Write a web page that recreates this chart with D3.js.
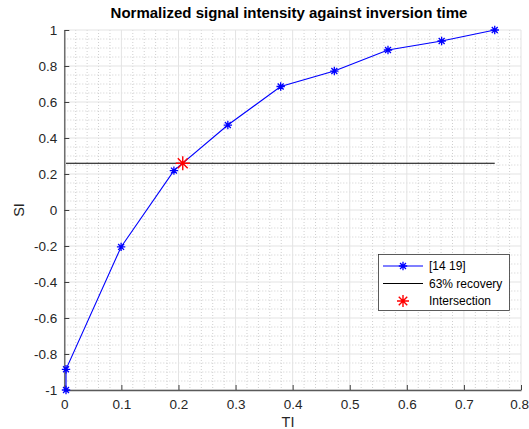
<!DOCTYPE html>
<html>
<head>
<meta charset="utf-8">
<script src="https://cdn.jsdelivr.net/npm/d3@7"></script>
<style>
  html, body { margin: 0; padding: 0; background: #fff; }
  svg { display: block; font-family: "Liberation Sans", Arial, Helvetica, sans-serif; }
</style>
</head>
<body>
<svg id="chart" width="529" height="429"></svg>
<script>
// Inversion times (s) and normalized signal intensity for ROI [14 19]
const ti = [0.003, 0.003, 0.0995, 0.192, 0.2865, 0.379, 0.473, 0.567, 0.661, 0.754];
const si = [-1.0, -0.885, -0.205, 0.219, 0.472, 0.686, 0.772, 0.889, 0.939, 1.0];

// 63% recovery level: -1 + 0.63 * 2
const recoveryLevel = [0.26];
const recoverySpan = [0.003, 0.754];

// Crossing of the curve with the recovery level
const intersection = [[0.2075, 0.26]];

const xTicks = [0, 0.1, 0.2, 0.3, 0.4, 0.5, 0.6, 0.7, 0.8];
const yTicks = [-1, -0.8, -0.6, -0.4, -0.2, 0, 0.2, 0.4, 0.6, 0.8, 1];
const legendLabels = ["[14 19]", "63% recovery", "Intersection"];

const svg = d3.select("#chart");
const m = { left: 64.3, right: 521, top: 30, bottom: 390 };

const x = d3.scaleLinear().domain([0, 0.8]).range([m.left, m.right]);
const y = d3.scaleLinear().domain([-1, 1]).range([m.bottom, m.top]);

// minor grid
const xMinor = d3.range(0, 0.8001, 0.02).filter(v => Math.abs(v * 10 - Math.round(v * 10)) > 1e-6);
const yMinor = d3.range(-1, 1.0001, 0.05).filter(v => Math.abs(v * 5 - Math.round(v * 5)) > 1e-6);
const grid = svg.append("g");
grid.selectAll(".vx").data(xMinor).join("line")
  .attr("x1", d => x(d)).attr("x2", d => x(d))
  .attr("y1", m.top).attr("y2", m.bottom)
  .attr("stroke", "#cfcfcf").attr("stroke-width", 1).attr("stroke-dasharray", "1,2");
grid.selectAll(".hy").data(yMinor).join("line")
  .attr("y1", d => y(d)).attr("y2", d => y(d))
  .attr("x1", m.left).attr("x2", m.right)
  .attr("stroke", "#cfcfcf").attr("stroke-width", 1).attr("stroke-dasharray", "1,2");

// major grid
grid.selectAll(".mx").data(xTicks).join("line")
  .attr("x1", d => x(d)).attr("x2", d => x(d))
  .attr("y1", m.top).attr("y2", m.bottom)
  .attr("stroke", "#e3e3e3").attr("stroke-width", 1);
grid.selectAll(".my").data(yTicks).join("line")
  .attr("y1", d => y(d)).attr("y2", d => y(d))
  .attr("x1", m.left).attr("x2", m.right)
  .attr("stroke", "#e3e3e3").attr("stroke-width", 1);

// axes
const fmt = d => d === 0 ? "0" : String(+d.toFixed(1));
const xAxis = d3.axisBottom(x).tickValues(xTicks).tickFormat(fmt).tickSizeInner(-5).tickSizeOuter(0).tickPadding(9);
const yAxis = d3.axisLeft(y).tickValues(yTicks).tickFormat(fmt).tickSizeInner(-5).tickSizeOuter(0).tickPadding(7);

const gx = svg.append("g").attr("transform", `translate(0,${m.bottom})`).call(xAxis);
const gy = svg.append("g").attr("transform", `translate(${m.left},0)`).call(yAxis);
[gx, gy].forEach(g => {
  g.select(".domain").attr("stroke", "#5a5a5a").attr("stroke-width", 1.3);
  g.selectAll(".tick line").attr("stroke", "#404040");
  g.selectAll(".tick text").attr("fill", "#262626").style("font-size", "13.5px");
});
gy.selectAll(".tick text").attr("dy", "0.35em");
// keep the last x label inside the canvas edge
gx.selectAll(".tick text").filter(d => d === 0.8).attr("text-anchor", "end").attr("dx", "7.5");

// data line
const line = d3.line().x((d, i) => x(ti[i])).y(d => y(d));
svg.append("path").datum(si).attr("d", line)
  .attr("fill", "none").attr("stroke", "#0000ff").attr("stroke-width", 1.1);

// recovery level line
svg.append("line")
  .attr("x1", x(recoverySpan[0])).attr("x2", x(recoverySpan[1]))
  .attr("y1", y(recoveryLevel[0])).attr("y2", y(recoveryLevel[0]))
  .attr("stroke", "#000").attr("stroke-width", 1.1);

// asterisk marker
function asterisk(r) {
  const d = r * Math.SQRT1_2;
  return `M${-r},0L${r},0M0,${-r}L0,${r}M${-d},${-d}L${d},${d}M${-d},${d}L${d},${-d}`;
}

svg.append("g").selectAll("path").data(si).join("path")
  .attr("transform", (d, i) => `translate(${x(ti[i])},${y(d)})`)
  .attr("d", asterisk(4.2))
  .attr("stroke", "#0000ff").attr("stroke-width", 1.3).attr("fill", "none");

svg.append("g").selectAll("path").data(intersection).join("path")
  .attr("transform", d => `translate(${x(d[0])},${y(d[1])})`)
  .attr("d", asterisk(7))
  .attr("stroke", "#ff0000").attr("stroke-width", 1.4).attr("fill", "none");

// title and labels
svg.append("text").attr("x", 289).attr("y", 18).attr("text-anchor", "middle")
  .style("font-size", "15px").style("font-weight", "bold").attr("fill", "#000")
  .text("Normalized signal intensity against inversion time");
svg.append("text").attr("x", 288).attr("y", 427).attr("text-anchor", "middle")
  .style("font-size", "14.5px").attr("fill", "#262626").text("TI");
svg.append("text").attr("transform", "translate(24,210) rotate(-90)").attr("text-anchor", "middle")
  .style("font-size", "14.5px").attr("fill", "#262626").text("SI");

// legend
const lg = svg.append("g");
lg.append("rect").attr("x", 378.5).attr("y", 254.5).attr("width", 131).attr("height", 56)
  .attr("fill", "#fff").attr("stroke", "#333").attr("stroke-width", 0.8);
const rowsY = [266, 283.5, 301];
legendLabels.forEach((t, i) => {
  lg.append("text").attr("x", 429).attr("y", rowsY[i]).attr("dy", "0.35em")
    .style("font-size", "12px").attr("fill", "#000").text(t);
});
lg.append("line").attr("x1", 383).attr("x2", 423).attr("y1", rowsY[0]).attr("y2", rowsY[0])
  .attr("stroke", "#0000ff").attr("stroke-width", 1.1);
lg.append("path").attr("transform", `translate(403,${rowsY[0]})`).attr("d", asterisk(4.2))
  .attr("stroke", "#0000ff").attr("stroke-width", 1.3);
lg.append("line").attr("x1", 383).attr("x2", 423).attr("y1", rowsY[1]).attr("y2", rowsY[1])
  .attr("stroke", "#000").attr("stroke-width", 1.1);
lg.append("path").attr("transform", `translate(403,${rowsY[2]})`).attr("d", asterisk(6))
  .attr("stroke", "#ff0000").attr("stroke-width", 1.4);
</script>
</body>
</html>
